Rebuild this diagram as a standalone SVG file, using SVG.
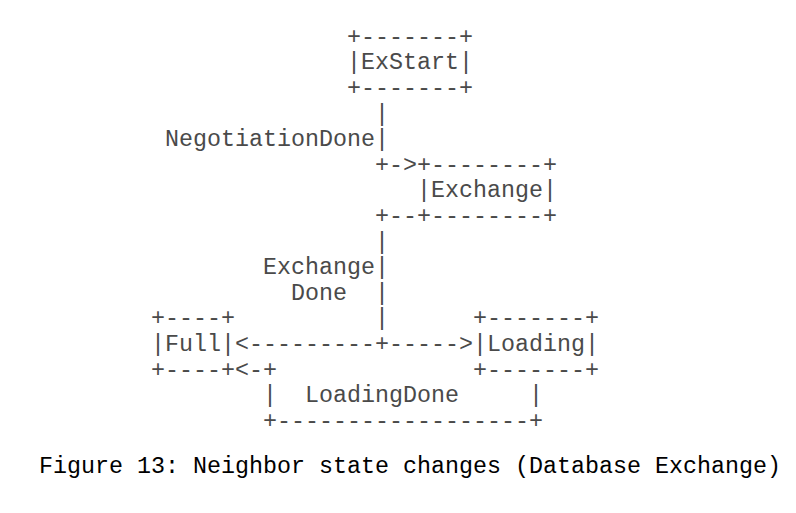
<svg xmlns="http://www.w3.org/2000/svg" width="796" height="513" viewBox="0 0 796 513">
<style>
text { font-family: "Liberation Mono", "DejaVu Sans Mono", monospace; font-size: 23.33px; white-space: pre; }
.art { fill: #4a4a4a; }
.cap { fill: #000000; }
</style>
<rect width="796" height="513" fill="#ffffff"/>
<g id="node-exstart" class="art">
<text x="347" y="43.7" xml:space="preserve">+-------+</text>
<text x="347" y="69.3" xml:space="preserve">|ExStart|</text>
<text x="347" y="94.9" xml:space="preserve">+-------+</text>
</g>
<g id="node-exchange" class="art">
<text x="417" y="171.7" xml:space="preserve">+--------+</text>
<text x="417" y="197.3" xml:space="preserve">|Exchange|</text>
<text x="417" y="222.9" xml:space="preserve">+--------+</text>
</g>
<g id="node-full" class="art">
<text x="151" y="325.3" xml:space="preserve">+----+</text>
<text x="151" y="350.9" xml:space="preserve">|Full|</text>
<text x="151" y="376.5" xml:space="preserve">+----+</text>
</g>
<g id="node-loading" class="art">
<text x="473" y="325.3" xml:space="preserve">+-------+</text>
<text x="473" y="350.9" xml:space="preserve">|Loading|</text>
<text x="473" y="376.5" xml:space="preserve">+-------+</text>
</g>
<g id="connectors" class="art">
<text x="375" y="120.5">|</text>
<text x="375" y="146.1">|</text>
<text x="375" y="171.7" xml:space="preserve">+-&gt;</text>
<text x="375" y="222.9" xml:space="preserve">+--</text>
<text x="375" y="248.5">|</text>
<text x="375" y="274.1">|</text>
<text x="375" y="299.7">|</text>
<text x="375" y="325.3">|</text>
<text x="235" y="350.9" xml:space="preserve">&lt;---------+-----&gt;</text>
<text x="235" y="376.5" xml:space="preserve">&lt;-+</text>
<text x="263" y="402.1">|</text>
<text x="529" y="402.1">|</text>
<text x="263" y="427.7" xml:space="preserve">+------------------+</text>
</g>
<g id="labels" class="art">
<text x="165" y="146.1">NegotiationDone</text>
<text x="263" y="274.1">Exchange</text>
<text x="291" y="299.7">Done</text>
<text x="305" y="402.1">LoadingDone</text>
</g>
<text class="cap" x="39" y="473" xml:space="preserve">Figure 13: Neighbor state changes (Database Exchange)</text>
</svg>
